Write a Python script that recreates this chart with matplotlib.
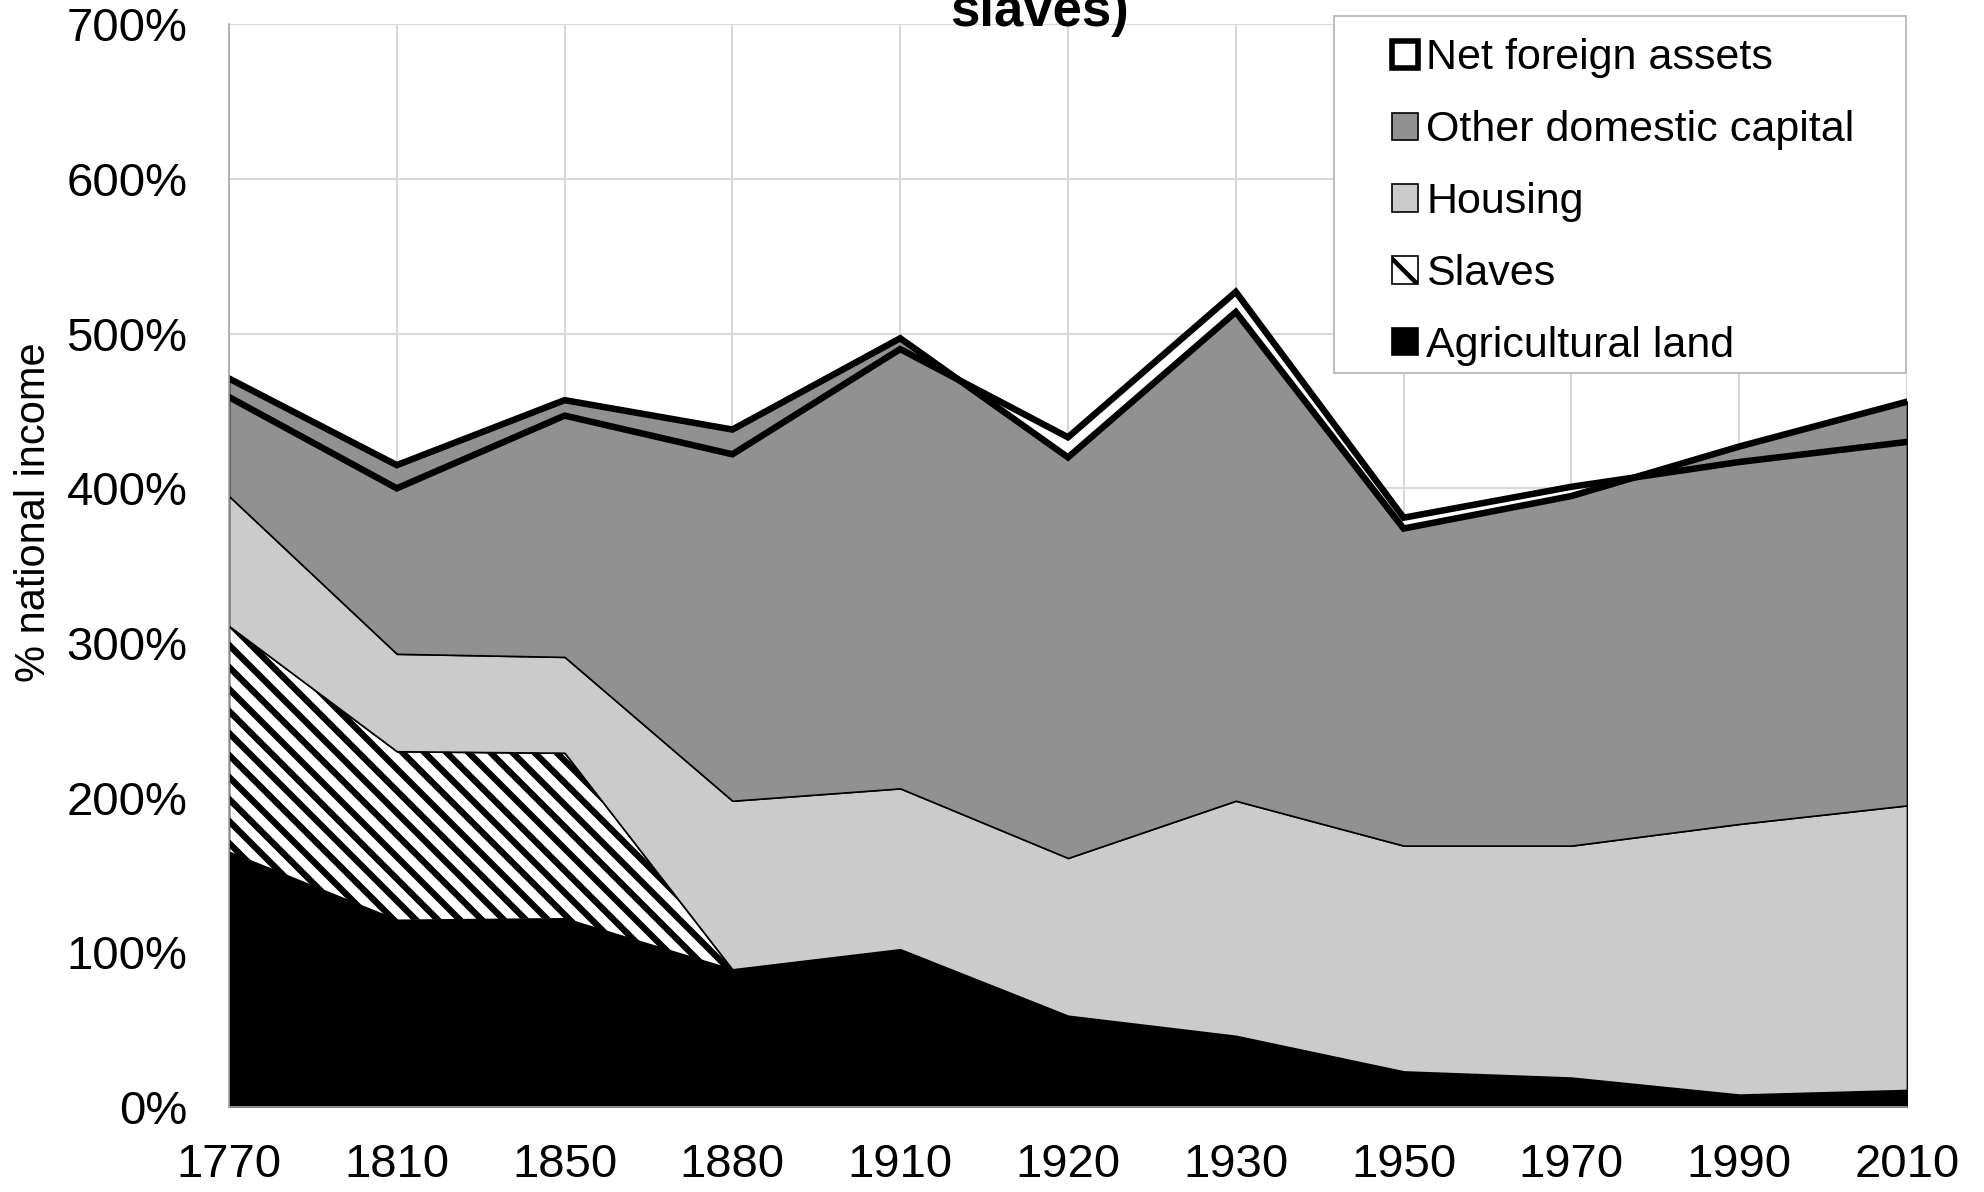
import matplotlib
matplotlib.use("Agg")
import matplotlib.pyplot as plt
import numpy as np
from matplotlib.patches import Patch, Rectangle
from matplotlib.collections import LineCollection

years = ["1770", "1810", "1850", "1880", "1910", "1920", "1930", "1950", "1970", "1990", "2010"]
agri_land = [165, 121, 122, 89, 102, 59, 46, 23, 19, 8, 11]
slaves = [146, 109, 107, 0, 0, 0, 0, 0, 0, 0, 0]
housing = [84, 63, 62, 109, 104, 102, 152, 146, 150, 175, 184]
other_capital = [76, 122, 166, 240, 291, 259, 316, 205, 226, 244, 261]
net_foreign = [-12, -15, -10, -16, -7, 13, 13, 7, 6, -10, -26]
yticks = [0, 100, 200, 300, 400, 500, 600, 700]

plt.rcParams['font.family'] = ['Liberation Sans', 'DejaVu Sans']
plt.rcParams['hatch.linewidth'] = 3.2
plt.rcParams['hatch.color'] = 'black'

def stripes(ax, fig, area, step=22, lw=4.6):
	# diagonal "\" stripes clipped to the slaves area
	bb = ax.get_position()
	W = bb.width * fig.get_figwidth() * fig.dpi
	H = bb.height * fig.get_figheight() * fig.dpi
	segs = []
	for k in np.arange(0, W + H + step, step):
		segs.append([((k - H) / W, 1.0), (k / W, 0.0)])
	lc = LineCollection(segs, colors='black', linewidths=lw, transform=ax.transAxes)
	lc.set_clip_path(area.get_paths()[0], ax.transData)
	ax.add_collection(lc)

def chart():
	x = np.arange(len(years))
	c1 = np.array(agri_land, dtype=float)
	c2 = c1 + np.array(slaves)
	c3 = c2 + np.array(housing)
	c4 = c3 + np.array(other_capital)
	tot = c4 + np.array(net_foreign)

	fig = plt.figure(figsize=(19.84, 11.92), dpi=100)
	ax = fig.add_axes([229/1984, 1-1107/1192, (1907-229)/1984, (1107-24.3)/1192])

	ax.fill_between(x, 0, c1, facecolor='black', edgecolor='black', lw=1.2)
	sl = ax.fill_between(x, c1, c2, facecolor='white', edgecolor='black', lw=1.2)
	stripes(ax, fig, sl)
	ax.fill_between(x, c2, c3, facecolor='#cbcbcb', edgecolor='black', lw=1.2)
	ax.fill_between(x, c3, c4, facecolor='#919191', edgecolor='black', lw=1.2)
	ax.fill_between(x, c4, tot, where=tot >= c4, interpolate=True, facecolor='white', edgecolor='none')
	ax.plot(x, c4, color='black', lw=4.7, solid_joinstyle='miter')
	ax.plot(x, tot, color='black', lw=4.7, solid_joinstyle='miter')

	ax.set_xlim(0, len(years)-1)
	ax.set_ylim(0, 700)
	ax.set_xticks(x)
	ax.set_xticklabels(years)
	ax.set_yticks(yticks)
	ax.set_yticklabels([str(v) + "%" for v in yticks])
	ax.tick_params(axis='x', length=0, pad=26, labelsize=34)
	ax.tick_params(axis='y', length=0, pad=30, labelsize=34)
	ax.grid(True, color='#d9d9d9', lw=1.5)
	ax.set_axisbelow(True)
	for s in ['top', 'right']:
		ax.spines[s].set_visible(False)
	for s in ['left', 'bottom']:
		ax.spines[s].set_color('#a6a6a6')
		ax.spines[s].set_linewidth(1.2)

	fig.text(34/1984, 1-512/1192, "% national income", rotation=90, ha='center', va='center', fontsize=30)
	fig.text(1039/1984, 1-26/1192, "slaves)", ha='center', va='baseline', fontsize=38, fontweight='bold')

	box = Rectangle((1333.6/1984, 1-373/1192), (1905.5-1333.6)/1984, (373-16.4)/1192, transform=fig.transFigure,
		facecolor='white', edgecolor='#bfbfbf', lw=1.5, zorder=6, clip_on=False)
	ax.add_artist(box)

	handles = [Patch(facecolor='white', edgecolor='black', lw=4),
		Patch(facecolor='#919191', edgecolor='black', lw=1.2),
		Patch(facecolor='#cbcbcb', edgecolor='black', lw=1.2),
		Patch(facecolor='white', edgecolor='black', hatch='\\', lw=1.2),
		Patch(facecolor='black', edgecolor='black', lw=1.2)]
	labels = ["Net foreign assets", "Other domestic capital", "Housing", "Slaves", "Agricultural land"]
	leg = ax.legend(handles, labels, loc='upper left', bbox_to_anchor=(1392/1984, 1-38.5/1192),
		bbox_transform=fig.transFigure, frameon=False, fontsize=31, borderpad=0, borderaxespad=0,
		handlelength=0.6, handleheight=0.6, handletextpad=0.2, labelspacing=0.74)
	leg.set_zorder(7)

	fig.savefig("out.png", dpi=100)

if __name__ == "__main__":
	chart()
